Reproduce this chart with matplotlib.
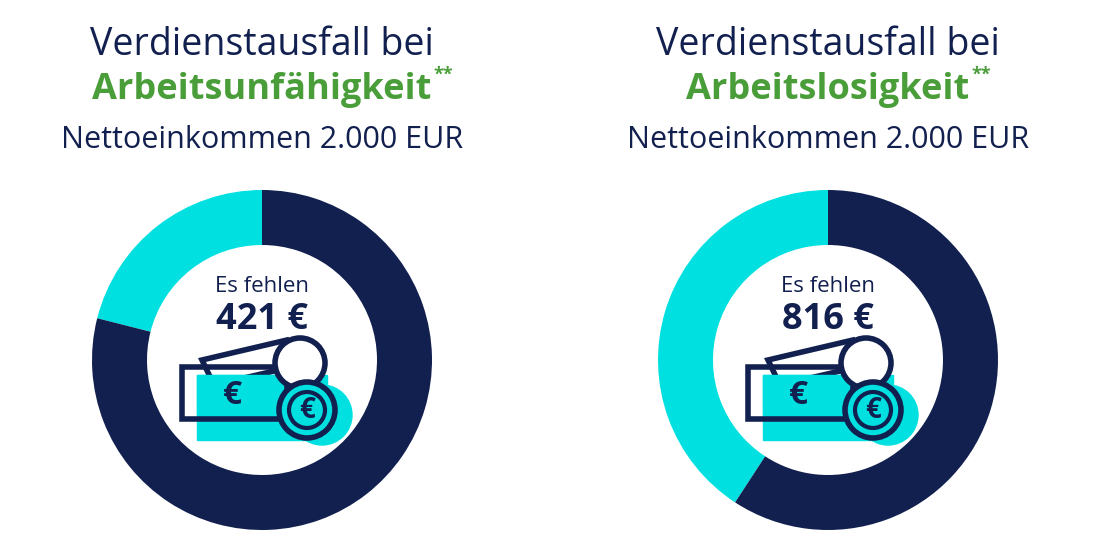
import matplotlib.pyplot as plt
from matplotlib.patches import Rectangle, Circle, Polygon

plt.rcParams['font.family'] = ['Open Sans', 'DejaVu Sans']

NAVY = '#12204f'
CYAN = '#00e0e0'
GREEN = '#4a9e3a'

# data
total = 2000
missing = [421, 816]
labels = ['Arbeitsunfähigkeit', 'Arbeitslosigkeit']
centers_x = [262, 828]

fig = plt.figure(figsize=(11.1, 5.58), dpi=100)
ax = fig.add_axes([0, 0, 1, 1])
ax.set_xlim(0, 1110)
ax.set_ylim(558, 0)
ax.set_aspect('equal')
ax.axis('off')


def money_icon(ox, oy):
    # cyan background shapes
    ax.add_patch(Rectangle((ox + 15, oy + 30), 130, 65, color=CYAN, zorder=3))
    ax.add_patch(Circle((ox + 140, oy + 70), 30, color=CYAN, zorder=3))
    # back bill (tilted outline)
    ax.add_patch(Polygon([(ox + 20, oy + 15), (ox + 105, oy - 5), (ox + 118, oy + 20), (ox + 32, oy + 40)],
                         closed=True, fill=False, ec=NAVY, lw=4, zorder=4))
    # front bill
    ax.add_patch(Rectangle((ox, oy + 22), 105, 52, fc='none', ec=NAVY, lw=4, zorder=5))
    ax.add_patch(Rectangle((ox + 15, oy + 30), 90, 40, color=CYAN, zorder=4.5))
    ax.text(ox + 50, oy + 50, '€', color=NAVY, fontsize=24, fontweight='bold',
            ha='center', va='center', zorder=6)
    # coins
    ax.add_patch(Circle((ox + 118, oy + 18), 25, fc='white', ec=NAVY, lw=4, zorder=5))
    ax.add_patch(Circle((ox + 125, oy + 65), 28, fc=CYAN, ec=NAVY, lw=4, zorder=6))
    ax.add_patch(Circle((ox + 125, oy + 65), 18, fc='none', ec=NAVY, lw=3, zorder=7))
    ax.text(ox + 125, oy + 66, '€', color=NAVY, fontsize=20, fontweight='bold',
            ha='center', va='center', zorder=8)


for cx, miss, lab in zip(centers_x, missing, labels):
    # y axis is inverted: start at data -90 (visual top), go clockwise in data = visual ccw
    ax.pie([miss, total - miss], colors=[CYAN, NAVY], startangle=-90, counterclock=False,
           center=(cx, 360), radius=170, wedgeprops=dict(width=55, lw=0), frame=True)
    ax.text(cx, 45, 'Verdienstausfall bei', color=NAVY, fontsize=27, fontweight='medium',
            ha='center', va='center')
    t = ax.text(cx, 90, lab, color=GREEN, fontsize=26, fontweight='bold', ha='center', va='center')
    fig.canvas.draw()
    bb = t.get_window_extent().transformed(ax.transData.inverted())
    ax.text(bb.x1 + 2, 75, '**', color=GREEN, fontsize=13, fontweight='bold', ha='left', va='center')
    ax.text(cx, 140, 'Nettoeinkommen 2.000 EUR', color=NAVY, fontsize=22, fontweight='medium',
            ha='center', va='center')
    ax.text(cx, 287, 'Es fehlen', color=NAVY, fontsize=16, ha='center', va='center')
    ax.text(cx, 320, f'{miss} €', color=NAVY, fontsize=26, fontweight='bold', ha='center', va='center')
    money_icon(cx - 80, 345)

ax.set_xlim(0, 1110)
ax.set_ylim(558, 0)
ax.axis('off')
fig.savefig('out.png', dpi=100, facecolor='white')
